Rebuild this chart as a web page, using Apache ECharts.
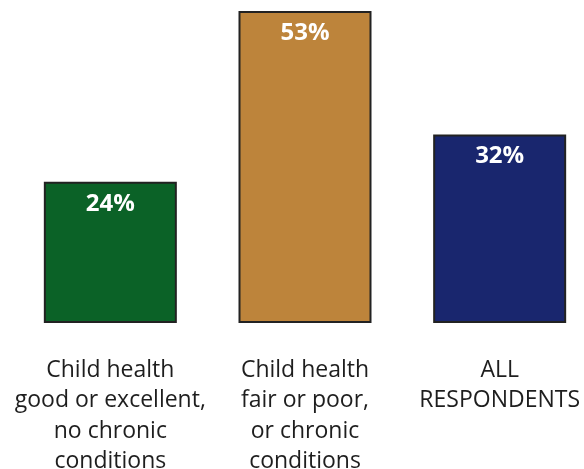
<!DOCTYPE html>
<html><head><meta charset="utf-8">
<script src="https://cdn.jsdelivr.net/npm/echarts@6/dist/echarts.min.js"></script>
<style>html,body{margin:0;padding:0;background:#fff}#c{width:584px;height:469px}</style>
</head><body><div id="c"></div>
<script>
const categories = ["Child health\ngood or excellent,\nno chronic\nconditions", "Child health\nfair or poor,\nor chronic\nconditions", "ALL\nRESPONDENTS"];
const values = [24, 53, 32];
const colors = ["#0b6227", "#bd843b", "#19266e"];

const chart = echarts.init(document.getElementById('c'));
chart.setOption({
  animation: false,
  grid: { left: 13, right: -13, top: 11, bottom: 146, containLabel: false, outerBoundsMode: 'none' },
  xAxis: {
    type: 'category', data: categories,
    axisLine: { show: false }, axisTick: { show: false },
    axisLabel: { fontFamily: 'Open Sans', fontSize: 23, lineHeight: 30.5, color: '#1e1e1e', margin: 32, interval: 0, hideOverlap: false }
  },
  yAxis: { type: 'value', min: 0, max: 53, show: false, splitLine: { show: false } },
  series: [{
    type: 'bar', barWidth: 133,
    data: values.map((v, i) => ({ value: v, itemStyle: { color: colors[i] } })),
    itemStyle: { borderColor: '#222', borderWidth: 2 },
    label: { show: true, position: 'insideTop', distance: 10, formatter: '{c}%', color: '#fff', fontWeight: 'bold', fontSize: 24, fontFamily: 'Open Sans' }
  }]
});
</script></body></html>
